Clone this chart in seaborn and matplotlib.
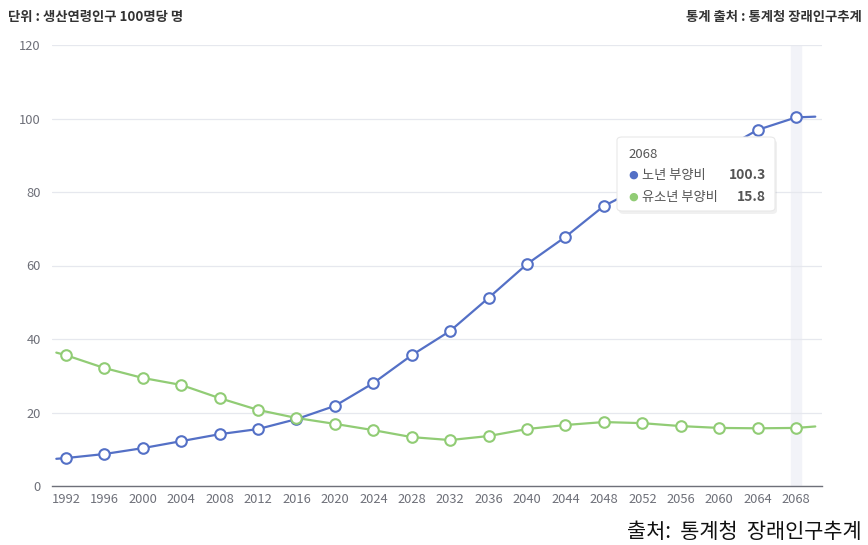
import matplotlib
matplotlib.use("Agg")
import matplotlib.pyplot as plt
import seaborn as sns
import pandas as pd
from matplotlib.patches import FancyBboxPatch

years = [1992, 1996, 2000, 2004, 2008, 2012, 2016, 2020, 2024, 2028,
         2032, 2036, 2040, 2044, 2048, 2052, 2056, 2060, 2064, 2068]
old_age = [7.6, 8.7, 10.3, 12.2, 14.1, 15.5, 18.2, 21.8, 28.0, 35.6,
           42.2, 51.2, 60.4, 67.8, 76.2, 81.5, 86.5, 91.0, 96.9, 100.3]
youth = [35.6, 32.1, 29.4, 27.5, 23.9, 20.7, 18.5, 16.9, 15.2, 13.3,
         12.5, 13.6, 15.5, 16.6, 17.4, 17.1, 16.3, 15.8, 15.7, 15.8]
# line continues slightly past the marked years at both edges
edge_years = [1991, 2070]
old_edges = [7.4, 100.5]
youth_edges = [36.3, 16.2]

series_names = ["노년 부양비", "유소년 부양비"]
colors = ["#5470c6", "#91cc75"]

sns.set_style("white")
plt.rcParams['font.family'] = ['Noto Sans CJK KR', 'DejaVu Sans']

fig = plt.figure(figsize=(8.68, 5.45), dpi=100)
ax = fig.add_axes([52/868, 1-486/545, (822-52)/868, (486-45)/545])

# highlight band at 2068
ax.axvspan(2067.5, 2068.5, color="#f2f3f8", zorder=0)

for name, vals, edges, col in [(series_names[0], old_age, old_edges, colors[0]),
                               (series_names[1], youth, youth_edges, colors[1])]:
    line_df = pd.DataFrame({"year": [edge_years[0]] + years + [edge_years[1]],
                            "value": [edges[0]] + vals + [edges[1]]})
    sns.lineplot(data=line_df, x="year", y="value", color=col, lw=1.6, ax=ax, zorder=3)
    pt_df = pd.DataFrame({"year": years, "value": vals})
    sns.scatterplot(data=pt_df, x="year", y="value", ax=ax, s=58, marker="o",
                    facecolor="white", edgecolor=col, linewidth=1.5, zorder=4)

ax.set_xlim(1990.55, 2070.7)
ax.set_ylim(0, 120)
ax.set_yticks([0, 20, 40, 60, 80, 100, 120])
ax.set_xticks(years)
ax.set_xticklabels([str(y) for y in years])
ax.grid(axis="y", color="#e6e8ee", lw=0.9)
ax.set_axisbelow(True)
for s in ["top", "right", "left"]:
    ax.spines[s].set_visible(False)
ax.spines["bottom"].set_color("#6e7079")
ax.spines["bottom"].set_linewidth(1.0)
ax.tick_params(axis="both", length=0, labelsize=9.3, colors="#6e7079")
ax.tick_params(axis="x", pad=5)
ax.tick_params(axis="y", pad=8)
ax.set_xlabel("")
ax.set_ylabel("")

# header texts
fig.text(8/868, 1-17/545, "단위 : 생산연령인구 100명당 명", fontsize=9.6, fontweight="bold",
         color="#333333", ha="left", va="center")
fig.text(862/868, 1-17/545, "통계 출처 : 통계청 장래인구추계", fontsize=9.6, fontweight="bold",
         color="#333333", ha="right", va="center")
fig.text(862/868, 1-532/545, "출처:  통계청  장래인구추계", fontsize=15,
         color="#111111", ha="right", va="center")

# tooltip
W, H = 868, 545
box = FancyBboxPatch((617/W, 1-211/H), (775-617)/W, (211-137)/H,
                     boxstyle="round,pad=0,rounding_size=0.006",
                     transform=fig.transFigure, facecolor="white",
                     edgecolor="#e8e8e8", lw=0.8, zorder=10)
shadow = FancyBboxPatch((619/W, 1-214/H), (775-617)/W, (211-137)/H,
                        boxstyle="round,pad=0,rounding_size=0.006",
                        transform=fig.transFigure, facecolor="#000000",
                        alpha=0.06, edgecolor="none", zorder=9)
fig.patches.extend([shadow, box])
fig.text(628/W, 1-154/H, "2068", fontsize=9.5, color="#555555", ha="left", va="center", zorder=11)
rows = [(175, colors[0], series_names[0], "100.3"), (197, colors[1], series_names[1], "15.8")]
for yy, col, name, val in rows:
    fig.text(628/W, 1-yy/H, "●", fontsize=8, color=col, ha="left", va="center", zorder=11,
             family=['DejaVu Sans'])
    fig.text(642/W, 1-yy/H, name, fontsize=9.5, color="#555555", ha="left", va="center", zorder=11)
    fig.text(766/W, 1-yy/H, val, fontsize=10, fontweight="bold", color="#555555",
             ha="right", va="center", zorder=11)

fig.savefig("out.png", dpi=100)
